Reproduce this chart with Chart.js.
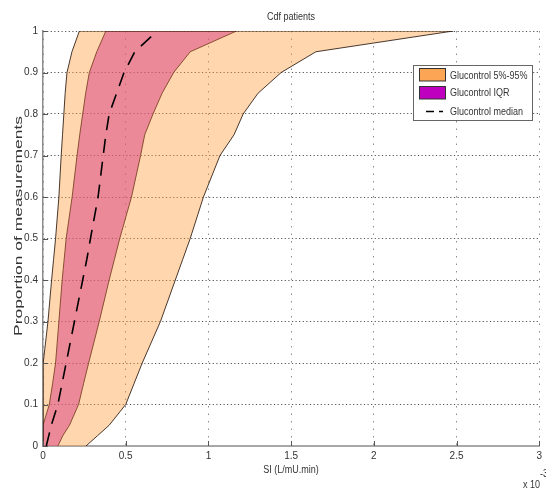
<!DOCTYPE html>
<html>
<head>
<meta charset="utf-8">
<script src="https://cdn.jsdelivr.net/npm/chart.js@4/dist/chart.umd.min.js"></script>
<style>
  html, body { margin: 0; padding: 0; background: #fff; }
  #wrap { width: 546px; height: 491px; }
</style>
</head>
<body>
<div id="wrap"><canvas id="cdfChart" width="546" height="491"></canvas></div>
<script>
// proportion of measurements (y) at which the SI percentiles are taken
const levels = [0, 0.025, 0.05, 0.1, 0.15, 0.2, 0.3, 0.4, 0.45, 0.5, 0.6, 0.7, 0.75, 0.8, 0.85, 0.9, 0.95, 1];

// SI across patients, x 10^-3 L/mU.min
const si5   = [0, 0, 0, 0, 0, 0.006, 0.03, 0.052, 0.064, 0.076, 0.096, 0.110, 0.118, 0.126, 0.134, 0.145, 0.175, 0.22];
const si25  = [0, 0, 0, 0.038, 0.058, 0.076, 0.096, 0.116, 0.128, 0.14, 0.176, 0.206, 0.222, 0.24, 0.258, 0.28, 0.325, 0.38];
const si50  = [0.02, 0.035, 0.05, 0.09, 0.115, 0.14, 0.19, 0.24, 0.265, 0.287, 0.333, 0.364, 0.38, 0.40, 0.445, 0.49, 0.555, 0.69];
const si75  = [0.09, 0.12, 0.16, 0.215, 0.245, 0.276, 0.34, 0.40, 0.432, 0.464, 0.535, 0.59, 0.615, 0.665, 0.72, 0.79, 0.89, 1.17];
const si95  = [0.26, 0.33, 0.40, 0.50, 0.55, 0.60, 0.71, 0.80, 0.845, 0.89, 0.97, 1.07, 1.155, 1.21, 1.30, 1.44, 1.65, 2.48];

const xTicks = [0, 0.5, 1, 1.5, 2, 2.5, 3];
const yTicks = [0, 0.1, 0.2, 0.3, 0.4, 0.5, 0.6, 0.7, 0.8, 0.9, 1];
const seriesNames = ["Glucontrol 5%-95%", "Glucontrol IQR", "Glucontrol median"];

const FONT = '"Liberation Sans", Arial, sans-serif';
const TEXT = "#333";
const MAGENTA = "rgb(191,0,191)";

// closed outline: up the lower edge, then back down the upper edge
function band(lower, upper) {
    let pts = levels.map((p, i) => ({ x: lower[i], y: p }));
    for (let i = levels.length - 1; i >= 0; i--) {
        pts.push({ x: upper[i], y: levels[i] });
    }
    return pts;
}

// small, slightly tall text like the rest of the figure
function label(ctx, text, x, y, align) {
    ctx.save();
    ctx.translate(x, y);
    ctx.scale(1, 1.25);
    ctx.fillStyle = TEXT;
    ctx.font = "9px " + FONT;
    ctx.textAlign = align;
    ctx.textBaseline = "middle";
    ctx.fillText(text, 0, 0);
    ctx.restore();
}

const extras = {
    id: "extras",
    afterDraw(chart) {
        const ctx = chart.ctx;
        const area = chart.chartArea;
        const xs = chart.scales.x;
        const ys = chart.scales.y;
        const midX = (area.left + area.right) / 2;

        // inward tick marks
        ctx.save();
        ctx.strokeStyle = "#555";
        ctx.lineWidth = 1;
        ctx.beginPath();
        xTicks.forEach(v => {
            const px = Math.round(xs.getPixelForValue(v)) + 0.5;
            ctx.moveTo(px, area.bottom);
            ctx.lineTo(px, area.bottom - 5);
        });
        yTicks.forEach(v => {
            const py = Math.round(ys.getPixelForValue(v)) + 0.5;
            ctx.moveTo(area.left, py);
            ctx.lineTo(area.left + 5, py);
        });
        ctx.stroke();
        ctx.restore();

        label(ctx, "Cdf patients", midX, 17, "center");
        label(ctx, "SI (L/mU.min)", midX, 470, "center");
        label(ctx, "x 10", 523, 485, "left");
        label(ctx, "-3", 540, 474, "left");

        // y axis title, stretched along its length
        ctx.save();
        const yTitle = "Proportion of measurements";
        ctx.fillStyle = TEXT;
        ctx.font = "10px " + FONT;
        const w = ctx.measureText(yTitle).width;
        ctx.translate(19, 226);
        ctx.rotate(-Math.PI / 2);
        ctx.scale(220 / w, 1);
        ctx.textAlign = "center";
        ctx.textBaseline = "middle";
        ctx.fillText(yTitle, 0, 0);
        ctx.restore();

        // legend box
        ctx.save();
        const lx = 413, ly = 65, lw = 119, lh = 55;
        ctx.fillStyle = "#fff";
        ctx.fillRect(lx, ly, lw, lh);
        ctx.strokeStyle = "#666";
        ctx.lineWidth = 1;
        ctx.strokeRect(lx + 0.5, ly + 0.5, lw, lh);

        ctx.fillStyle = "rgb(252,165,85)";
        ctx.fillRect(419.5, 68.5, 26, 12.5);
        ctx.strokeStyle = "#333";
        ctx.strokeRect(419.5, 68.5, 26, 12.5);
        ctx.fillStyle = MAGENTA;
        ctx.fillRect(419.5, 86.5, 26, 12.5);
        ctx.strokeRect(419.5, 86.5, 26, 12.5);

        ctx.strokeStyle = "#000";
        ctx.lineWidth = 1.5;
        ctx.setLineDash([8, 5]);
        ctx.beginPath();
        ctx.moveTo(426, 111.5);
        ctx.lineTo(443, 111.5);
        ctx.stroke();
        ctx.restore();

        label(ctx, seriesNames[0], 450, 75.5, "left");
        label(ctx, seriesNames[1], 450, 93, "left");
        label(ctx, seriesNames[2], 450, 111.5, "left");
    }
};

new Chart(document.getElementById("cdfChart"), {
    type: "scatter",
    data: {
        datasets: [{
            label: seriesNames[2],
            data: levels.map((p, i) => ({ x: si50[i], y: p })),
            showLine: true,
            borderColor: "#000",
            borderWidth: 1.6,
            borderDash: [14, 9],
            fill: false
        }, {
            label: seriesNames[0],
            data: band(si5, si95),
            showLine: true,
            borderColor: "rgba(40,25,15,0.85)",
            borderWidth: 1,
            backgroundColor: "rgba(255,153,51,0.4)",
            fill: "shape"
        }, {
            label: seriesNames[1],
            data: band(si25, si75),
            showLine: true,
            borderColor: "rgba(40,10,30,0.9)",
            borderWidth: 1,
            backgroundColor: "rgba(191,0,191,0.5)",
            fill: "shape"
        }]
    },
    options: {
        responsive: false,
        animation: false,
        devicePixelRatio: 1,
        layout: { padding: { top: 31, right: 3, left: 0, bottom: 0 } },
        elements: { point: { radius: 0 }, line: { tension: 0 } },
        plugins: {
            legend: { display: false },
            title: { display: false },
            tooltip: { enabled: false }
        },
        scales: {
            x: {
                type: "linear",
                min: 0,
                max: 3,
                afterBuildTicks: s => { s.ticks = xTicks.map(v => ({ value: v })); },
                afterFit: s => { s.height = 45; },
                grid: { color: "#8c8c8c", lineWidth: 1, drawTicks: false },
                border: { color: "#a8a8a8", width: 2, dash: [1.5, 6] },
                ticks: {
                    padding: 4,
                    color: TEXT,
                    font: { family: FONT, size: 10 },
                    maxRotation: 0,
                    callback: v => String(v)
                }
            },
            y: {
                type: "linear",
                min: 0,
                max: 1,
                afterBuildTicks: s => { s.ticks = yTicks.map(v => ({ value: v })); },
                afterFit: s => { s.width = 43; },
                grid: { color: "#555", lineWidth: 1, drawTicks: false },
                border: { color: "#8c8c8c", width: 1.5, dash: [1.2, 2.4] },
                ticks: {
                    padding: 5,
                    color: TEXT,
                    font: { family: FONT, size: 10 },
                    callback: v => String(v)
                }
            }
        }
    },
    plugins: [extras]
});
</script>
</body>
</html>
